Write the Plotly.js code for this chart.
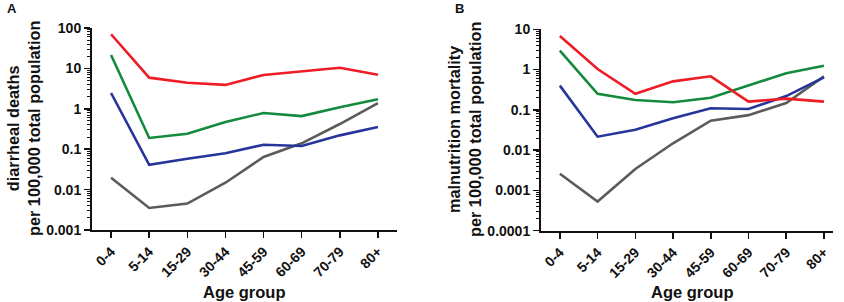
<!DOCTYPE html>
<html><head><meta charset="utf-8">
<script src="https://cdn.plot.ly/plotly-3.0.1.min.js"></script>
<style>html,body{margin:0;padding:0;background:#fff}#c{width:844px;height:302px}</style>
</head><body><div id="c"></div>
<script>
const ageGroups = ["0-4","5-14","15-29","30-44","45-59","60-69","70-79","80+"];
// Panel A: diarrheal deaths per 100,000
const diarRed   = [70, 5.9, 4.4, 3.9, 6.9, 8.3, 10.4, 7.0];
const diarGreen = [21.5, 0.19, 0.24, 0.47, 0.79, 0.66, 1.09, 1.72];
const diarBlue  = [2.46, 0.041, 0.058, 0.079, 0.129, 0.12, 0.22, 0.355];
const diarGray  = [0.0197, 0.0035, 0.0045, 0.0148, 0.064, 0.14, 0.42, 1.39];
// Panel B: malnutrition mortality per 100,000
const malRed   = [6.8, 1.03, 0.25, 0.51, 0.68, 0.16, 0.19, 0.16];
const malGreen = [2.95, 0.25, 0.176, 0.155, 0.20, 0.41, 0.81, 1.25];
const malBlue  = [0.40, 0.0216, 0.032, 0.062, 0.11, 0.105, 0.22, 0.64];
const malGray  = [0.0026, 0.00053, 0.0034, 0.0148, 0.054, 0.074, 0.148, 0.68];
const tickValsA = [0.001,0.01,0.1,1,10,100];
const tickTextA = ['0.001','0.01','0.1','1','10','100'];
const tickValsB = [0.0001,0.001,0.01,0.1,1,10];
const tickTextB = ['0.0001','0.001','0.01','0.1','1','10'];

const colors = {red:'#ee1c24', green:'#138a3c', blue:'#27359b', gray:'#5b5b5b'};
const W = 844, H = 302;
const F = 'Liberation Sans, Arial, sans-serif';

function minorVals(vals){
  const out = [];
  for (let i = 0; i < vals.length - 1; i++) for (let k = 2; k <= 9; k++) out.push(vals[i]*k);
  return out;
}
function tr(y, c, xa, ya){
  return {x: ageGroups, y: y, type:'scatter', mode:'lines', xaxis:xa, yaxis:ya,
    line:{color:c, width:2.6}, showlegend:false, hoverinfo:'skip'};
}
const data = [
  tr(diarGray, colors.gray, 'x','y'), tr(diarBlue, colors.blue, 'x','y'),
  tr(diarGreen, colors.green, 'x','y'), tr(diarRed, colors.red, 'x','y'),
  tr(malGray, colors.gray, 'x2','y2'), tr(malBlue, colors.blue, 'x2','y2'),
  tr(malGreen, colors.green, 'x2','y2'), tr(malRed, colors.red, 'x2','y2')
];

const tickFont = {family:F, size:14, color:'#111', weight:'bold'};
function xax(domain, anchor, range){
  return {domain: domain, anchor: anchor, type:'category', range: range,
    showline:true, linecolor:'#111', linewidth:2, showgrid:false, zeroline:false,
    ticks:'outside', ticklen:6, tickwidth:1.5, tickcolor:'#111',
    tickangle:-45, tickfont: tickFont};
}
function yax(domain, anchor, range, vals, texts){
  return {domain: domain, anchor: anchor, type:'log', range: range,
    showline:true, linecolor:'#111', linewidth:2, showgrid:false, zeroline:false,
    ticks:'outside', ticklen:6, tickwidth:1.5, tickcolor:'#111',
    tickmode:'array', tickvals: vals, ticktext: texts, tickfont: tickFont,
    minor:{ticks:'outside', ticklen:3.5, tickwidth:1, tickcolor:'#111',
      tickmode:'array', tickvals: minorVals(vals), showgrid:false}};
}
const titleFont = {family:F, size:16.3, color:'#111', weight:'bold'};
function ann(text, x, y, font, angle){
  return {text:text, x:x/W, y:1-y/H, xref:'paper', yref:'paper', xanchor:'center', yanchor:'middle',
    showarrow:false, textangle: angle||0, font:font};
}
const layout = {
  width: W, height: H, margin:{l:0,r:0,t:0,b:0},
  paper_bgcolor:'#fff', plot_bgcolor:'#fff',
  xaxis: xax([92/W, 397/W], 'y', [-0.5, 7.5]),
  yaxis: yax([72/H, 274/H], 'x', [-3, 2], tickValsA, tickTextA),
  xaxis2: xax([541/W, 833/W], 'y2', [-0.5, 7.24]),
  yaxis2: yax([71.3/H, 272.7/H], 'x2', [-4, 1], tickValsB, tickTextB),
  annotations: [
    ann('A', 12, 8, {family:F, size:13, color:'#111', weight:'bold'}),
    ann('B', 460, 8, {family:F, size:13, color:'#111', weight:'bold'}),
    ann('diarrheal deaths<br>per 100,000 total population', 23, 129, titleFont, -90),
    ann('malnutrition mortality<br>per 100,000 total population', 464, 130, titleFont, -90),
    ann('Age group', 244, 292, {family:F, size:16.5, color:'#111', weight:'bold'}),
    ann('Age group', 692, 292, {family:F, size:16.5, color:'#111', weight:'bold'})
  ]
};
Plotly.newPlot('c', data, layout, {staticPlot:true, displayModeBar:false});
</script>
</body></html>
